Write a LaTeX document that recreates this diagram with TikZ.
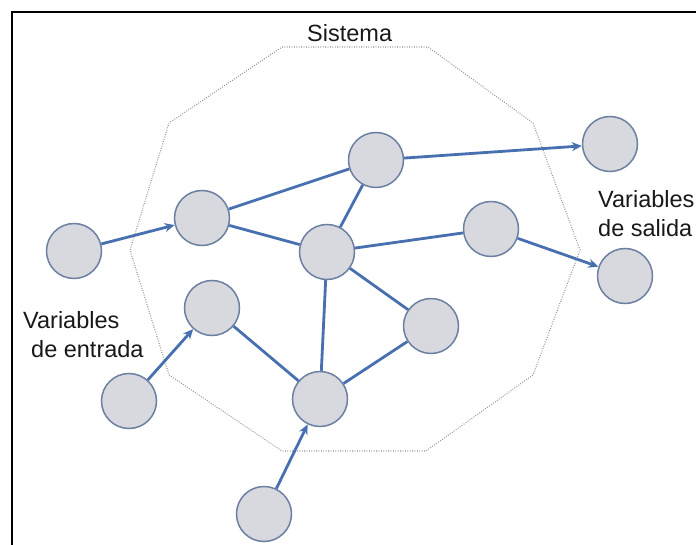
\documentclass[tikz,border=0pt]{standalone}
\usepackage{fontspec}
\setmainfont{Liberation Sans}
\usetikzlibrary{arrows.meta}
\definecolor{nodefill}{RGB}{216,217,222}
\definecolor{nodeline}{RGB}{108,128,162}
\definecolor{edgeblue}{RGB}{72,112,176}
\definecolor{dotgray}{RGB}{140,140,145}
\begin{document}
\begin{tikzpicture}[x=1pt,y=-1pt,
  vnode/.style={circle,fill=nodefill,draw=nodeline,line width=1.5pt,minimum size=55pt,inner sep=0pt},
  link/.style={draw=edgeblue,line width=2.8pt},
  flow/.style={link,-{Stealth[length=10pt,width=9pt]}},
  txt/.style={font=\fontsize{23.5}{28}\selectfont,inner sep=0pt,anchor=base west,text=black!90}]
\useasboundingbox (0,0) rectangle (696,545);
\fill[white] (0,0) rectangle (696,545);
\draw[line width=2pt] (12,545) -- (12,12) -- (696,12);
% system boundary
\draw[dotgray,line width=1.1pt,dash pattern=on 0.8pt off 1.6pt]
  (282,47) -- (428,47) -- (533,123) -- (580,250) -- (533,375) -- (426,451)
  -- (282,451) -- (169,375) -- (130,250) -- (169,123) -- cycle;
% labels
\node[txt] (sis) at (307,42) {Sistema};
\node[txt] (ent1) at (23,328) {Variables};
\node[txt] (ent2) at (31,357) {de entrada};
\node[txt] (sal1) at (598,208) {Variables};
\node[txt] (sal2) at (598,237) {de salida};
% nodes
\node[vnode] (A) at (74,251) {};
\node[vnode] (B) at (202,218) {};
\node[vnode] (C) at (376,160) {};
\node[vnode] (D) at (327,252) {};
\node[vnode] (E) at (491,229) {};
\node[vnode] (F) at (610,144) {};
\node[vnode] (G) at (625,276) {};
\node[vnode] (H) at (212,308) {};
\node[vnode] (I) at (431,326) {};
\node[vnode] (J) at (320,399) {};
\node[vnode] (K) at (129,401) {};
\node[vnode] (L) at (264,514) {};
% edges
\draw[flow] (A) -- (B);
\draw[link] (B) -- (C);
\draw[link] (B) -- (D);
\draw[flow] (C) -- (F);
\draw[link] (C) -- (D);
\draw[link] (D) -- (E);
\draw[flow] (E) -- (G);
\draw[link] (D) -- (I);
\draw[link] (D) -- (J);
\draw[link] (H) -- (J);
\draw[link] (I) -- (J);
\draw[flow] (K) -- (H);
\draw[flow] (L) -- (J);
\end{tikzpicture}
\end{document}
